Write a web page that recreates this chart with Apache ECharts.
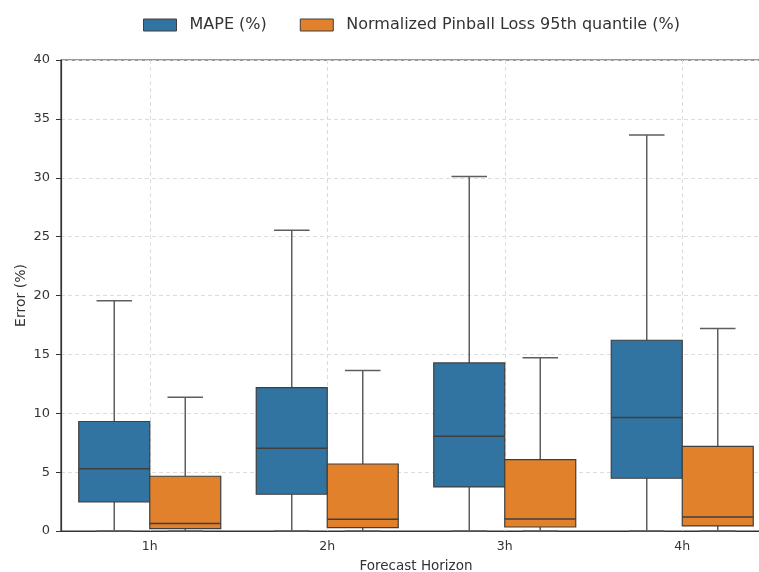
<!DOCTYPE html>
<html>
<head>
<meta charset="utf-8">
<script src="https://cdn.jsdelivr.net/npm/echarts@6/dist/echarts.min.js"></script>
<style>
  html, body { margin: 0; padding: 0; background: #ffffff; }
  #chart { width: 759px; height: 572px; }
</style>
</head>
<body>
<div id="chart"></div>
<script>
// Forecast horizons on the x axis
const horizons = ['1h', '2h', '3h', '4h'];

// Box statistics per horizon: [lower whisker, Q1, median, Q3, upper whisker]
const mapeStats = [
  [0.0, 2.48, 5.28, 9.30, 19.56],
  [0.0, 3.12, 7.02, 12.18, 25.54],
  [0.0, 3.74, 8.04, 14.27, 30.10],
  [0.0, 4.48, 9.63, 16.20, 33.63]
];
const pinballStats = [
  [0.0, 0.20, 0.63, 4.65, 11.36],
  [0.0, 0.29, 0.99, 5.69, 13.62],
  [0.0, 0.34, 1.02, 6.06, 14.72],
  [0.0, 0.43, 1.19, 7.19, 17.19]
];

const seriesNames = ['MAPE (%)', 'Normalized Pinball Loss 95th quantile (%)'];
const seriesColors = ['#3274a1', '#e1812c'];
const edgeColor = '#3f3f3f';
const whiskerColor = '#5e5e5e';

// Turn the stats into rows of [horizon index, lo, q1, med, q3, hi]
function toRows(stats) {
  return stats.map((s, i) => [i].concat(s));
}

// Draws one box with whiskers; offset is the box centre shift in band units
function boxRenderer(offset) {
  return function (params, api) {
    const cat = api.value(0);
    const band = api.size([1, 0])[0];
    const cx = api.coord([cat, 0])[0] + offset * band;
    const boxW = band * 0.4;
    const capW = band * 0.2;
    const y = (v) => api.coord([cat, v])[1];
    const yLo = y(api.value(1));
    const yQ1 = y(api.value(2));
    const yMed = y(api.value(3));
    const yQ3 = y(api.value(4));
    const yHi = y(api.value(5));
    const color = api.visual('color');
    const lineStyle = { stroke: whiskerColor, lineWidth: 1.5 };
    return {
      type: 'group',
      children: [
        { type: 'line', shape: { x1: cx, y1: yQ3, x2: cx, y2: yHi }, style: lineStyle },
        { type: 'line', shape: { x1: cx, y1: yQ1, x2: cx, y2: yLo }, style: lineStyle },
        { type: 'line', shape: { x1: cx - capW / 2, y1: yHi, x2: cx + capW / 2, y2: yHi }, style: lineStyle },
        { type: 'line', shape: { x1: cx - capW / 2, y1: yLo, x2: cx + capW / 2, y2: yLo }, style: lineStyle },
        {
          type: 'rect',
          shape: { x: cx - boxW / 2, y: yQ3, width: boxW, height: yQ1 - yQ3 },
          style: { fill: color, stroke: edgeColor, lineWidth: 1.2 }
        },
        {
          type: 'line',
          shape: { x1: cx - boxW / 2, y1: yMed, x2: cx + boxW / 2, y2: yMed },
          style: { stroke: edgeColor, lineWidth: 1.5 }
        }
      ]
    };
  };
}

const chart = echarts.init(document.getElementById('chart'), null, { renderer: 'canvas' });

const axisTextColor = '#333333';
const gridLine = { show: true, lineStyle: { color: '#dcdcdc', type: [4, 3], width: 1 } };

chart.setOption({
  animation: false,
  color: seriesColors,
  textStyle: { fontFamily: 'DejaVu Sans' },
  legend: {
    top: 12,
    left: 138,
    icon: 'rect',
    itemWidth: 33,
    itemHeight: 12,
    itemGap: 33,
    itemStyle: { borderColor: edgeColor, borderWidth: 1 },
    textStyle: { fontSize: 16, color: axisTextColor, fontFamily: 'DejaVu Sans', padding: [0, 0, 0, 8] },
    data: seriesNames
  },
  grid: {
    left: 61,
    top: 60,
    width: 710,
    height: 471,
    outerBoundsMode: 'none',
    containLabel: false,
    show: true,
    backgroundColor: 'transparent',
    borderColor: '#333333',
    borderWidth: 1.2
  },
  xAxis: {
    type: 'category',
    data: horizons,
    name: 'Forecast Horizon',
    nameLocation: 'middle',
    nameGap: 28,
    nameMoveOverlap: false,
    nameTextStyle: { fontSize: 13.5, color: axisTextColor },
    axisLine: { lineStyle: { color: '#333333', width: 1.2 } },
    axisTick: { alignWithLabel: true, length: 5, lineStyle: { color: '#333333' } },
    axisLabel: { fontSize: 12.5, color: axisTextColor, margin: 9 },
    splitLine: Object.assign({ alignWithLabel: true }, gridLine)
  },
  yAxis: {
    type: 'value',
    min: 0,
    max: 40,
    interval: 5,
    name: 'Error (%)',
    nameLocation: 'middle',
    nameRotate: 90,
    nameGap: 33,
    nameMoveOverlap: false,
    nameTextStyle: { fontSize: 14, color: axisTextColor },
    axisLine: { show: true, lineStyle: { color: '#333333', width: 1.2 } },
    axisTick: { show: true, length: 5, lineStyle: { color: '#333333' } },
    axisLabel: { fontSize: 13, color: axisTextColor, margin: 11 },
    splitLine: gridLine
  },
  series: [
    {
      name: seriesNames[0],
      type: 'custom',
      renderItem: boxRenderer(-0.2),
      encode: { x: 0, y: [1, 2, 3, 4, 5] },
      data: toRows(mapeStats)
    },
    {
      name: seriesNames[1],
      type: 'custom',
      renderItem: boxRenderer(0.2),
      encode: { x: 0, y: [1, 2, 3, 4, 5] },
      data: toRows(pinballStats)
    }
  ]
});
</script>
</body>
</html>
